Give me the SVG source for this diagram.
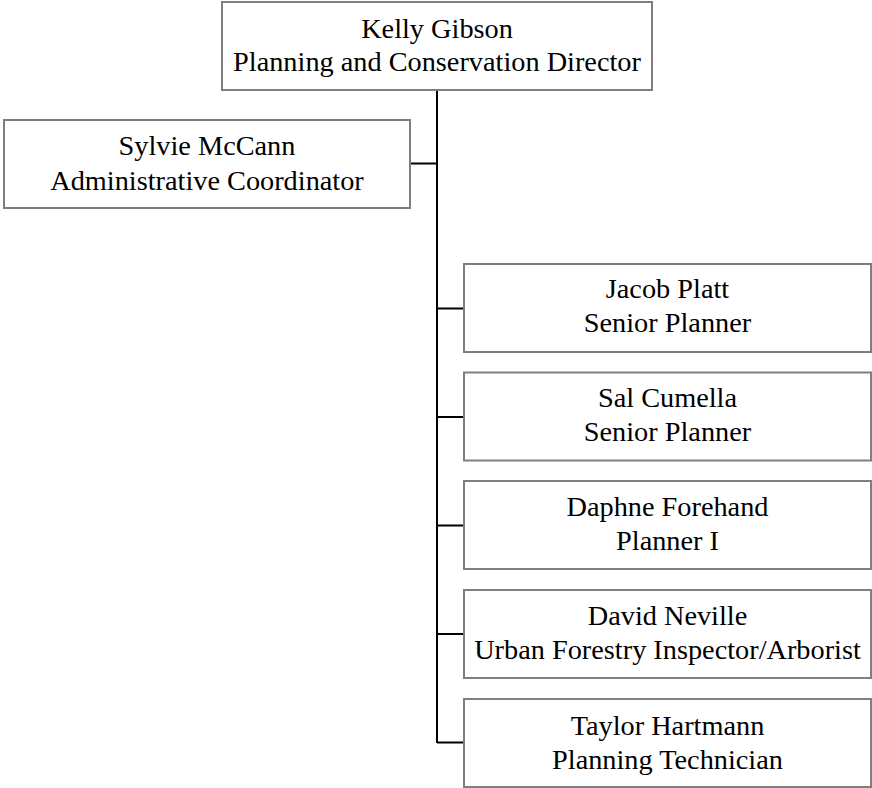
<svg xmlns="http://www.w3.org/2000/svg" width="872" height="788" viewBox="0 0 872 788">
<style>
.box{fill:#fff;stroke:#7f7f7f;stroke-width:2}
.t{font-family:"Liberation Serif","Times New Roman",serif;font-size:28.3px;fill:#000;text-anchor:middle}
.c{stroke:#000;stroke-width:2;fill:none}
</style>
<rect width="872" height="788" fill="#fff"/>
<g id="connectors">
<path class="c" d="M437 91V743M410 163.5H437M437 308.5H464M437 417H464M437 525.5H464M437 634H464M437 742.5H464"/>
</g>
<g id="kelly">
<rect class="box" x="222" y="2" width="430" height="88"/>
<text class="t" x="437" y="37.5">Kelly Gibson</text>
<text class="t" x="437" y="71">Planning and Conservation Director</text>
</g>
<g id="sylvie">
<rect class="box" x="4" y="120" width="406" height="88"/>
<text class="t" x="207" y="155">Sylvie McCann</text>
<text class="t" x="207" y="189.5">Administrative Coordinator</text>
</g>
<g id="jacob">
<rect class="box" x="464" y="264" width="407" height="88"/>
<text class="t" x="667.5" y="298">Jacob Platt</text>
<text class="t" x="667.5" y="332">Senior Planner</text>
</g>
<g id="sal">
<rect class="box" x="464" y="372.5" width="407" height="88"/>
<text class="t" x="667.5" y="406.5">Sal Cumella</text>
<text class="t" x="667.5" y="440.5">Senior Planner</text>
</g>
<g id="daphne">
<rect class="box" x="464" y="481" width="407" height="88"/>
<text class="t" x="667.5" y="515.5">Daphne Forehand</text>
<text class="t" x="667.5" y="549.5">Planner I</text>
</g>
<g id="david">
<rect class="box" x="464" y="590" width="407" height="88"/>
<text class="t" x="667.5" y="625">David Neville</text>
<text class="t" x="667.5" y="659">Urban Forestry Inspector/Arborist</text>
</g>
<g id="taylor">
<rect class="box" x="464" y="699" width="407" height="88"/>
<text class="t" x="667.5" y="735">Taylor Hartmann</text>
<text class="t" x="667.5" y="769">Planning Technician</text>
</g>
</svg>
